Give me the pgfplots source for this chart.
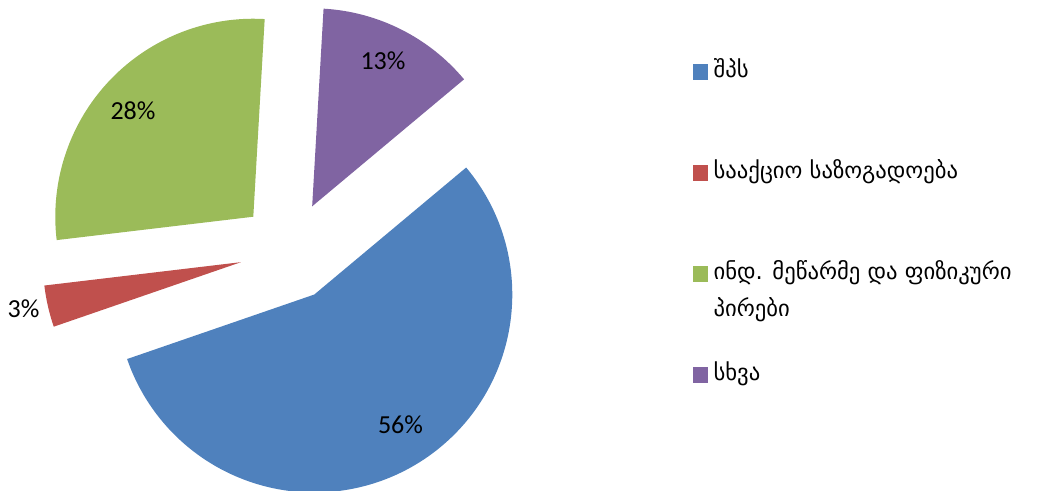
\documentclass[border=0pt]{standalone}
\usepackage{fontspec}
\setmainfont{Carlito}
\newfontfamily\geo[Script=Georgian]{DejaVu Sans}
\usepackage{pgfplots}
\usepackage{pgfplotstable}
\pgfplotsset{compat=1.18}

\definecolor{c0}{HTML}{4F81BD}
\definecolor{c1}{HTML}{C0504D}
\definecolor{c2}{HTML}{9BBB59}
\definecolor{c3}{HTML}{8064A2}

% shares (percent) in drawing order, clockwise from the first slice
\pgfplotstableread{
share label
55.8 56
3.4  3
27.8 28
13.0 13
}\piedata

\newcommand\R{148.5pt}   % slice radius (198 axis units)
\newcommand\cx{289.7}    % pie centre before exploding
\newcommand\cy{240}
\newcommand\boom{50}     % explode distance
\xdef\cum{39.9}          % first slice starts here

\pgfplotsforeachungrouped \i in {0,1,2,3}{%
  \pgfplotstablegetelem{\i}{share}\of\piedata
  \pgfmathsetmacro\sA{\cum}
  \pgfmathsetmacro\sB{\cum-\pgfplotsretval*3.6}
  \pgfmathsetmacro\sM{(\sA+\sB)/2}
  \pgfmathsetmacro\sX{\cx+\boom*cos(\sM)}
  \pgfmathsetmacro\sY{\cy+\boom*sin(\sM)}
  \expandafter\xdef\csname st\i\endcsname{\sA}
  \expandafter\xdef\csname en\i\endcsname{\sB}
  \expandafter\xdef\csname ax\i\endcsname{\sX}
  \expandafter\xdef\csname ay\i\endcsname{\sY}
  \pgfplotstablegetelem{\i}{label}\of\piedata
  \expandafter\xdef\csname lb\i\endcsname{\pgfplotsretval}
  \xdef\cum{\sB}
}

\newcommand\slice[2]{%
  \fill[#2] (axis cs:\csname ax#1\endcsname,\csname ay#1\endcsname)
    -- ++(\csname st#1\endcsname:\R)
    arc[start angle=\csname st#1\endcsname,end angle=\csname en#1\endcsname,radius=\R]
    -- cycle;}

\newcommand\pct[3]{% index, x, y
  \node[font=\fontsize{19.5pt}{23pt}\selectfont, inner sep=0pt] at (axis cs:#2,#3) {\csname lb#1\endcsname\%};}

\pgfplotsset{sq/.style={legend image code/.code={\fill[#1] (0pt,-0.6pt) rectangle (10.8pt,10.2pt);}}}

\begin{document}
\begin{tikzpicture}
\begin{axis}[
    scale only axis,
    width=792.75pt, height=368.25pt,
    xmin=0, xmax=1057, ymin=0, ymax=491,
    hide axis, clip=false,
    legend style={at={(axis cs:693,453)}, anchor=north west, draw=none,
        inner sep=0pt, outer sep=0pt, row sep=0pt, column sep=4.2pt,
        font=\geo\fontsize{17pt}{27.75pt}\selectfont,
        nodes={inner sep=0pt, anchor=base west, text height=30pt, text depth=45.75pt}},
    legend cell align=left,
]
\slice{0}{c0}
\slice{1}{c1}
\slice{2}{c2}
\slice{3}{c3}

\pct{0}{400.5}{66.5}
\pct{1}{23.5}{182.5}
\pct{2}{133}{380.5}
\pct{3}{383}{430.5}

\addlegendimage{sq=c0}
\addlegendentry{შპს}
\addlegendimage{sq=c1}
\addlegendentry{სააქციო საზოგადოება}
\addlegendimage{sq=c2}
\addlegendentry{\begin{tabular}[t]{@{}l@{}}ინდ. მეწარმე და ფიზიკური\\პირები\end{tabular}}
\addlegendimage{sq=c3}
\addlegendentry{სხვა}
\end{axis}
\pgfresetboundingbox
\path (current axis.south west) rectangle (current axis.north east);
\end{tikzpicture}
\end{document}
